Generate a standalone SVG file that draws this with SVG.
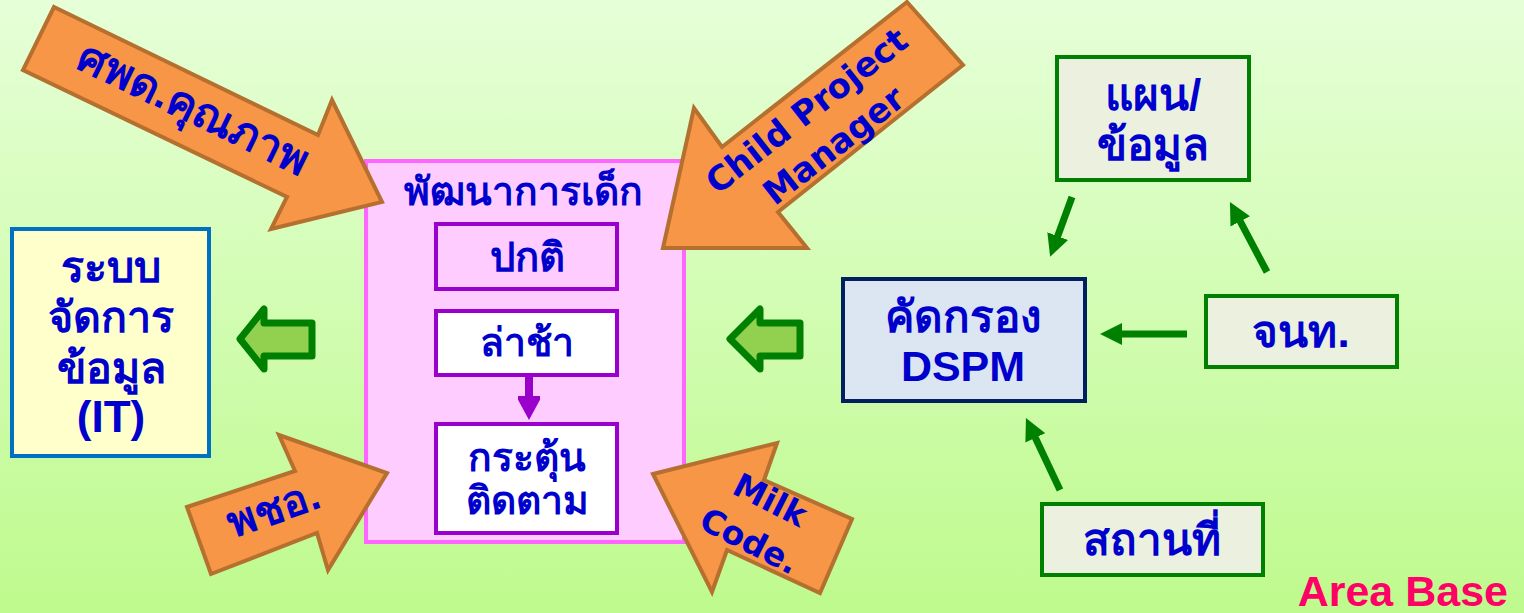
<svg xmlns="http://www.w3.org/2000/svg" width="1524" height="613" viewBox="0 0 1524 613">
<defs>
<linearGradient id="bg" x1="0" y1="0" x2="0" y2="1">
<stop offset="0" stop-color="#E6FFD8"/>
<stop offset="1" stop-color="#BEFA8D"/>
</linearGradient>
<marker id="gh" viewBox="0 0 22 22" markerUnits="userSpaceOnUse" markerWidth="22" markerHeight="22" refX="2" refY="11" orient="auto">
<path d="M0,0 L22,11 L0,22 z" fill="#008000"/>
</marker>
<marker id="ph" viewBox="0 0 26 22" markerUnits="userSpaceOnUse" markerWidth="26" markerHeight="22" refX="2" refY="11" orient="auto">
<path d="M0,-2 L24,11 L0,24 z" fill="#9900CC"/>
</marker>
</defs>
<style>
.t{font-family:"Liberation Sans","Noto Sans","DejaVu Sans",sans-serif;font-weight:bold;fill:#0000CC;text-anchor:middle}
.v{font-family:"DejaVu Sans","Liberation Sans",sans-serif;font-weight:bold;fill:#0000CC;text-anchor:middle}
.orange{fill:#F79646;stroke:#B5702F;stroke-width:4;stroke-linejoin:miter}
.hollow{fill:#92D050;stroke:#008000;stroke-width:7;stroke-linejoin:round}
.gbox{fill:#EBF1DE;stroke:#008000;stroke-width:4}
.pbox{stroke:#9900CC;stroke-width:4}
.gline{stroke:#008000;stroke-width:7;fill:none}
</style>
<rect x="0" y="0" width="1524" height="613" fill="url(#bg)"/>

<g id="it-system">
<rect x="12" y="229" width="197" height="227" fill="#FFFFCC" stroke="#0070C0" stroke-width="4"/>
<text class="t" font-size="43" x="111" y="282">ระบบ</text>
<text class="t" font-size="43" x="111" y="332">จัดการ</text>
<text class="t" font-size="43" x="111" y="383">ข้อมูล</text>
<text class="t" font-size="44" x="111" y="432">(IT)</text>
</g>

<g id="child-dev">
<rect x="366" y="161" width="318" height="381" fill="#FFCCFF" stroke="#FF66FF" stroke-width="4"/>
<text class="t" font-size="39" x="523" y="205">พัฒนาการเด็ก</text>
</g>
<g id="normal">
<rect class="pbox" x="436" y="224" width="181" height="65" fill="#FFCCFF"/>
<text class="t" font-size="40" x="527" y="271">ปกติ</text>
</g>
<g id="delayed">
<rect class="pbox" x="436" y="311" width="181" height="64" fill="#FFFFFF"/>
<text class="t" font-size="39" x="527" y="356">ล่าช้า</text>
</g>
<g id="stimulate">
<rect class="pbox" x="436" y="424" width="181" height="109" fill="#FFFFFF"/>
<text class="t" font-size="39" x="527" y="471">กระตุ้น</text>
<text class="t" font-size="39" x="527" y="514">ติดตาม</text>
</g>

<g id="hollow-arrow-left">
<polygon class="hollow" points="240,339 264,309 264,323 312,323 312,356 264,356 264,369"/>
</g>
<g id="hollow-arrow-mid">
<polygon class="hollow" points="730,339 760,309 760,323 800,323 800,356 760,356 760,369"/>
</g>

<g id="dspm">
<rect x="843" y="279" width="242" height="122" fill="#DCE6F2" stroke="#002060" stroke-width="4"/>
<text class="t" font-size="44" x="963" y="332">คัดกรอง</text>
<text class="t" font-size="43" x="963" y="381">DSPM</text>
</g>
<g id="plan-data">
<rect class="gbox" x="1057" y="57" width="192" height="123"/>
<text class="t" font-size="44" x="1153" y="110">แผน/</text>
<text class="t" font-size="44" x="1153" y="160">ข้อมูล</text>
</g>
<g id="staff">
<rect class="gbox" x="1206" y="296" width="191" height="71"/>
<text class="t" font-size="44" x="1301" y="347">จนท.</text>
</g>
<g id="place">
<rect class="gbox" x="1042" y="504" width="221" height="71"/>
<text class="t" font-size="44" x="1152" y="555">สถานที่</text>
</g>

<g id="connectors">
<line class="gline" x1="1072" y1="197" x2="1057" y2="238" marker-end="url(#gh)"/>
<line class="gline" x1="1267" y1="272" x2="1239.3" y2="219.7" marker-end="url(#gh)"/>
<line class="gline" x1="1187" y1="334" x2="1120" y2="334" marker-end="url(#gh)"/>
<line class="gline" x1="1060" y1="490" x2="1034.5" y2="436.1" marker-end="url(#gh)"/>
<line x1="529" y1="375" x2="529" y2="398" stroke="#9900CC" stroke-width="8" marker-end="url(#ph)"/>
</g>

<g id="arrow-quality">
<polygon class="orange" points="54,7 318,135 332,100 382,202 271,229 287,197 23,70"/>
<text class="t" font-size="44" transform="translate(193,110) rotate(26)" x="0" y="13">ศพด.คุณภาพ</text>
</g>
<g id="arrow-cpm">
<polygon class="orange" points="907,2 963,65 778,212 807,248 663,248 694,108 722,147"/>
<text class="v" font-size="34" transform="translate(820,128) rotate(-38)"><tspan x="0" y="-10">Child Project</tspan><tspan x="0" y="34">Manager</tspan></text>
</g>
<g id="arrow-pcho">
<polygon class="orange" points="187,507 295,471 279,435 387,473 328,570 317,533 211,574"/>
<text class="t" font-size="43" transform="translate(274,510) rotate(-19)" x="0" y="13">พชอ.</text>
</g>
<g id="arrow-milk">
<polygon class="orange" points="653,474 777,443 764,480 852,519 820,593 727,550 712,592"/>
<text class="v" font-size="33" transform="translate(760,520) rotate(27)"><tspan x="0" y="-11">Milk</tspan><tspan x="0" y="35">Code.</tspan></text>
</g>

<g id="area-base">
<text font-family="Liberation Sans, Arial, sans-serif" font-weight="bold" font-size="43" fill="#FF0066" text-anchor="end" x="1508" y="606">Area Base</text>
</g>
</svg>
